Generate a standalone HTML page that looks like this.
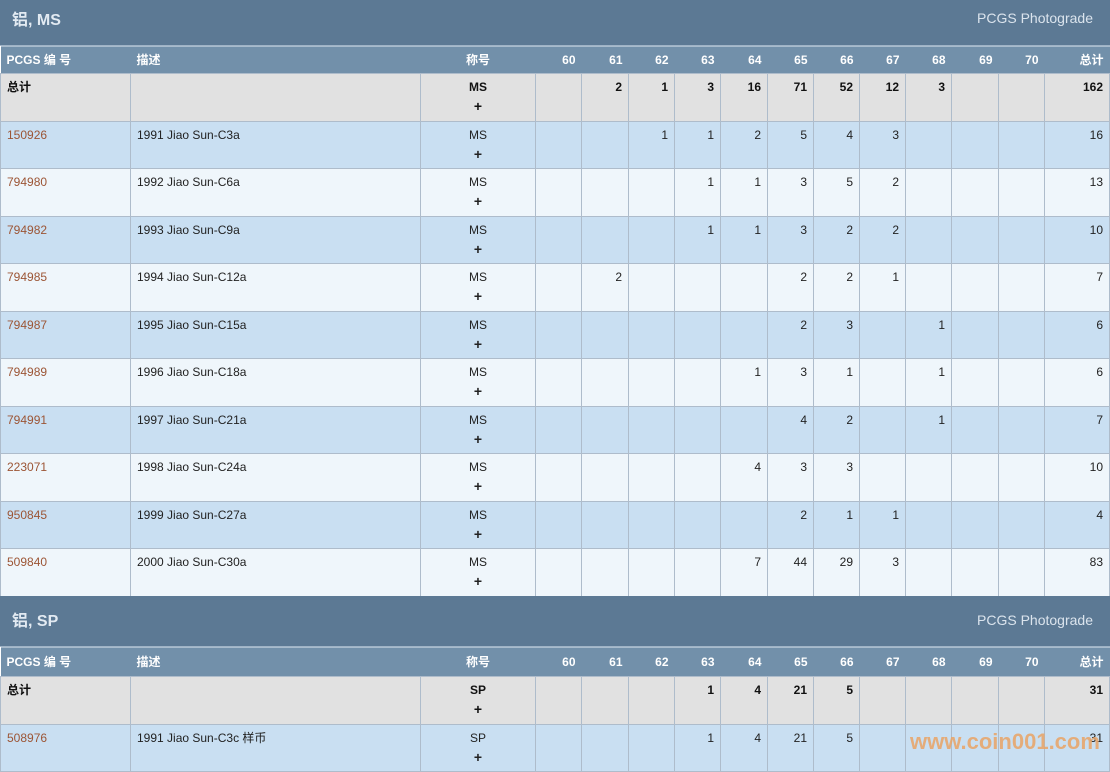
<!DOCTYPE html>
<html><head><meta charset="utf-8">
<style>
body{margin:0;width:1110px;height:771px;overflow:hidden;background:#fff;font-family:"Liberation Sans","Noto Sans CJK SC",sans-serif;font-size:12px;color:#222;position:relative}
.sec{position:absolute;left:0;width:1110px;background:#5c7994;border-bottom:1px solid #9fb3c6}
.sec .t{position:absolute;left:12px;font-size:16px;font-weight:bold;color:#e2eaf2}
.sec .p{position:absolute;right:17px;font-size:14px;color:#dbe4ed}
table{position:absolute;left:0;border-collapse:collapse;table-layout:fixed;width:1109px}
td{border:1px solid #aebccb;padding:0 6px;vertical-align:top;line-height:18px;padding-top:4px;white-space:nowrap;overflow:hidden}
td.n{text-align:right}
td.c{text-align:center}
tr.h td{background:#7290aa;color:#fff;font-weight:bold;border:none;border-top:1px solid #a8bbcc;vertical-align:middle;padding-top:0}
tr.tot td{background:#e1e1e1;font-weight:bold;color:#111}
tr.b td{background:#c9dff2}
tr.w td{background:#eff6fb}
a{color:#9c5535;text-decoration:none}
.plus{display:block;font-weight:bold;font-size:14px;line-height:20px}
.wm{position:absolute;left:910px;top:729px;font-size:22px;font-weight:bold;color:#e9a466;opacity:.85;letter-spacing:0}
</style></head><body>
<div class="sec" style="top:0;height:45px"><span class="t" style="top:6px">铝, MS</span><span class="p" style="top:10px">PCGS Photograde</span></div>
<table style="top:46px">
<colgroup><col style="width:130px"><col style="width:290px"><col style="width:115px"><col style="width:46px"><col style="width:47px"><col style="width:46px"><col style="width:46px"><col style="width:47px"><col style="width:46px"><col style="width:46px"><col style="width:46px"><col style="width:46px"><col style="width:47px"><col style="width:46px"><col style="width:65px"></colgroup>
<tr class="h" style="height:27px"><td>PCGS 编 号</td><td>描述</td><td class="c">称号</td><td class="n">60</td><td class="n">61</td><td class="n">62</td><td class="n">63</td><td class="n">64</td><td class="n">65</td><td class="n">66</td><td class="n">67</td><td class="n">68</td><td class="n">69</td><td class="n">70</td><td class="n">总计</td></tr>
<tr class="tot" style="height:47.5px"><td>总计</td><td></td><td class="c">MS<span class="plus">+</span></td><td></td><td class="n">2</td><td class="n">1</td><td class="n">3</td><td class="n">16</td><td class="n">71</td><td class="n">52</td><td class="n">12</td><td class="n">3</td><td></td><td></td><td class="n">162</td></tr>
<tr class="b" style="height:47.5px"><td><a>150926</a></td><td>1991 Jiao Sun-C3a</td><td class="c">MS<span class="plus">+</span></td><td></td><td></td><td class="n">1</td><td class="n">1</td><td class="n">2</td><td class="n">5</td><td class="n">4</td><td class="n">3</td><td></td><td></td><td></td><td class="n">16</td></tr>
<tr class="w" style="height:47.5px"><td><a>794980</a></td><td>1992 Jiao Sun-C6a</td><td class="c">MS<span class="plus">+</span></td><td></td><td></td><td></td><td class="n">1</td><td class="n">1</td><td class="n">3</td><td class="n">5</td><td class="n">2</td><td></td><td></td><td></td><td class="n">13</td></tr>
<tr class="b" style="height:47.5px"><td><a>794982</a></td><td>1993 Jiao Sun-C9a</td><td class="c">MS<span class="plus">+</span></td><td></td><td></td><td></td><td class="n">1</td><td class="n">1</td><td class="n">3</td><td class="n">2</td><td class="n">2</td><td></td><td></td><td></td><td class="n">10</td></tr>
<tr class="w" style="height:47.5px"><td><a>794985</a></td><td>1994 Jiao Sun-C12a</td><td class="c">MS<span class="plus">+</span></td><td></td><td class="n">2</td><td></td><td></td><td></td><td class="n">2</td><td class="n">2</td><td class="n">1</td><td></td><td></td><td></td><td class="n">7</td></tr>
<tr class="b" style="height:47.5px"><td><a>794987</a></td><td>1995 Jiao Sun-C15a</td><td class="c">MS<span class="plus">+</span></td><td></td><td></td><td></td><td></td><td></td><td class="n">2</td><td class="n">3</td><td></td><td class="n">1</td><td></td><td></td><td class="n">6</td></tr>
<tr class="w" style="height:47.5px"><td><a>794989</a></td><td>1996 Jiao Sun-C18a</td><td class="c">MS<span class="plus">+</span></td><td></td><td></td><td></td><td></td><td class="n">1</td><td class="n">3</td><td class="n">1</td><td></td><td class="n">1</td><td></td><td></td><td class="n">6</td></tr>
<tr class="b" style="height:47.5px"><td><a>794991</a></td><td>1997 Jiao Sun-C21a</td><td class="c">MS<span class="plus">+</span></td><td></td><td></td><td></td><td></td><td></td><td class="n">4</td><td class="n">2</td><td></td><td class="n">1</td><td></td><td></td><td class="n">7</td></tr>
<tr class="w" style="height:47.5px"><td><a>223071</a></td><td>1998 Jiao Sun-C24a</td><td class="c">MS<span class="plus">+</span></td><td></td><td></td><td></td><td></td><td class="n">4</td><td class="n">3</td><td class="n">3</td><td></td><td></td><td></td><td></td><td class="n">10</td></tr>
<tr class="b" style="height:47.5px"><td><a>950845</a></td><td>1999 Jiao Sun-C27a</td><td class="c">MS<span class="plus">+</span></td><td></td><td></td><td></td><td></td><td></td><td class="n">2</td><td class="n">1</td><td class="n">1</td><td></td><td></td><td></td><td class="n">4</td></tr>
<tr class="w" style="height:47.5px"><td><a>509840</a></td><td>2000 Jiao Sun-C30a</td><td class="c">MS<span class="plus">+</span></td><td></td><td></td><td></td><td></td><td class="n">7</td><td class="n">44</td><td class="n">29</td><td class="n">3</td><td></td><td></td><td></td><td class="n">83</td></tr>
</table>
<div class="sec" style="top:596px;height:50px"><span class="t" style="top:11px">铝, SP</span><span class="p" style="top:16px">PCGS Photograde</span></div>
<table style="top:647px">
<colgroup><col style="width:130px"><col style="width:290px"><col style="width:115px"><col style="width:46px"><col style="width:47px"><col style="width:46px"><col style="width:46px"><col style="width:47px"><col style="width:46px"><col style="width:46px"><col style="width:46px"><col style="width:46px"><col style="width:47px"><col style="width:46px"><col style="width:65px"></colgroup>
<tr class="h" style="height:29px"><td>PCGS 编 号</td><td>描述</td><td class="c">称号</td><td class="n">60</td><td class="n">61</td><td class="n">62</td><td class="n">63</td><td class="n">64</td><td class="n">65</td><td class="n">66</td><td class="n">67</td><td class="n">68</td><td class="n">69</td><td class="n">70</td><td class="n">总计</td></tr>
<tr class="tot" style="height:47.5px"><td>总计</td><td></td><td class="c">SP<span class="plus">+</span></td><td></td><td></td><td></td><td class="n">1</td><td class="n">4</td><td class="n">21</td><td class="n">5</td><td></td><td></td><td></td><td></td><td class="n">31</td></tr>
<tr class="b" style="height:47.5px"><td><a>508976</a></td><td>1991 Jiao Sun-C3c 样币</td><td class="c">SP<span class="plus">+</span></td><td></td><td></td><td></td><td class="n">1</td><td class="n">4</td><td class="n">21</td><td class="n">5</td><td></td><td></td><td></td><td></td><td class="n">31</td></tr>
</table>
<div class="wm">www.coin001.com</div>
</body></html>
